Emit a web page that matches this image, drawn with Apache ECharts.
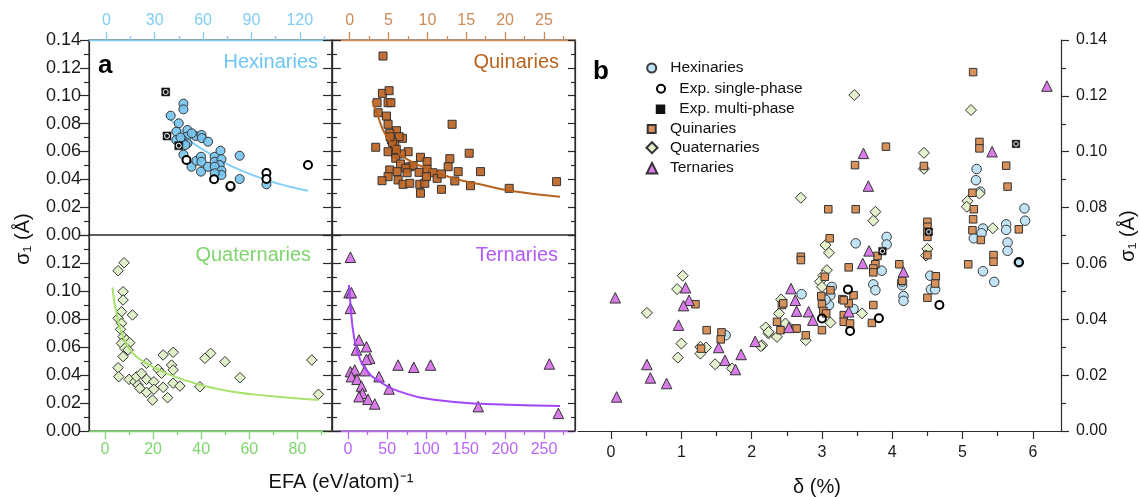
<!DOCTYPE html>
<html>
<head>
<meta charset="utf-8">
<script src="https://cdn.jsdelivr.net/npm/echarts@6/dist/echarts.min.js"></script>
<style>
html, body { margin: 0; padding: 0; background: #fff; }
#container { width: 1140px; height: 497px; }
</style>
</head>
<body>
<div id="container"></div>
<script>
// tick values for each axis
var hexTicks = [0, 30, 60, 90, 120];
var hexMinor = [15, 45, 75, 105, 135];
var quinTicks = [0, 5, 10, 15, 20, 25];
var quinMinor = [2.5, 7.5, 12.5, 17.5, 22.5, 27.5];
var quatTicks = [0, 20, 40, 60, 80];
var quatMinor = [10, 30, 50, 70, 90];
var ternTicks = [0, 50, 100, 150, 200, 250];
var ternMinor = [25, 75, 125, 175, 225, 275];
var deltaTicks = [0, 1, 2, 3, 4, 5, 6];
var deltaMinor = [0.5, 1.5, 2.5, 3.5, 4.5, 5.5];

// panel a: [EFA, sigma1]
var hexA = [[39.9,0.0857],[47.8,0.0943],[47.8,0.0902],[44.9,0.0802],[43.4,0.0742],[50.3,0.0754],[49.7,0.0706],[47.2,0.0682],[50.3,0.0658],[43.4,0.0682],[49,0.0646],[55.4,0.0711],[59,0.0718],[59.2,0.0696],[63.1,0.067],[47.8,0.0577],[52.8,0.049],[55.9,0.0533],[58.7,0.0562],[59,0.0526],[58.7,0.0455],[63.1,0.049],[67.2,0.0562],[70.8,0.0605],[67.2,0.0526],[71.4,0.0544],[70.3,0.0502],[67.2,0.049],[71.4,0.0462],[71.4,0.0431],[67.2,0.0443],[82.7,0.0569],[82.7,0.0402],[99.3,0.0364],[77,0.0345],[53,0.073],[46,0.07]];
var expSingleA = [[49.7,0.0539],[66.8,0.040],[77,0.0352],[99.3,0.0445],[99.3,0.0402],[125.1,0.0503]];
var expMultiA = [[36.8,0.1027],[37.6,0.0711],[44.9,0.0641]];
var hexFit = [[37.2,0.0862],[45,0.0766],[52.8,0.067],[62.1,0.0598],[70.3,0.0539],[82.7,0.0467],[99.3,0.0395],[112,0.0352],[125.1,0.0318]];

var quinA = [[4.29,0.1285],[4.21,0.1017],[5.07,0.1036],[3.52,0.095],[4.94,0.095],[5.3,0.095],[3.65,0.0878],[4.73,0.0854],[4.94,0.0795],[6.02,0.0749],[5.15,0.073],[6.79,0.0694],[6.36,0.0706],[5.37,0.0682],[5.8,0.0646],[3.35,0.063],[4.94,0.0598],[5.93,0.0582],[7.52,0.0598],[6.66,0.0582],[5.93,0.0551],[9.11,0.0558],[12.89,0.0548],[15.38,0.0587],[13.18,0.0795],[6.53,0.051],[7.73,0.049],[8.16,0.0498],[9.96,0.0527],[12.67,0.049],[5.15,0.0467],[6.1,0.0455],[7.22,0.0479],[8.93,0.045],[9.96,0.0472],[7.39,0.0447],[10.7,0.0447],[13.96,0.0455],[16.84,0.0455],[4.94,0.0419],[6.23,0.0395],[4.16,0.039],[6.87,0.0364],[7.73,0.0371],[9.02,0.0364],[9.66,0.0371],[9.88,0.0419],[11.25,0.0407],[11.81,0.0438],[13.53,0.0388],[15.55,0.0354],[9.11,0.03],[11.81,0.0328],[20.53,0.0335],[26.63,0.0383],[5.5,0.0665],[5.2,0.0705],[6.0,0.0615]];
var quinFit = [[2.92,0.0962],[3.65,0.0849],[4.51,0.073],[5.8,0.0622],[7.52,0.0539],[9.88,0.0479],[13.32,0.0407],[16.75,0.0364],[20.62,0.0318],[27.06,0.0275]];

var quatA = [[7.92,0.1202],[5.42,0.1145],[7.5,0.0995],[7.5,0.0936],[6.83,0.0852],[11.42,0.0829],[5.42,0.0805],[6.83,0.0769],[6.42,0.0726],[7.5,0.0674],[8.92,0.065],[10.29,0.0631],[6.83,0.0626],[8.21,0.0591],[9.58,0.0579],[7.5,0.0531],[5.42,0.0452],[5.71,0.0388],[10,0.0369],[12.38,0.0352],[13.75,0.0329],[14.46,0.0305],[13.08,0.0388],[15.17,0.0412],[17.25,0.0483],[17.25,0.0369],[17.25,0.0276],[19.75,0.0221],[20.29,0.0352],[20.29,0.0298],[22.08,0.0441],[23.5,0.0412],[24.17,0.0543],[24.17,0.0312],[26,0.0238],[28.33,0.0562],[27.67,0.0471],[28.33,0.0436],[28.33,0.0341],[31.13,0.0321],[39.46,0.0316],[41.54,0.0519],[43.92,0.0555],[49.88,0.0495],[56.13,0.0381],[86,0.0507],[88.75,0.0262]];
var quatFit = [[3.08,0.1026],[4.75,0.0841],[7.5,0.0674],[11.67,0.0555],[17.25,0.0483],[25.58,0.0412],[39.46,0.033],[53.33,0.0281],[67.25,0.0252],[88.75,0.0221]];

var ternA = [[3.07,0.1241],[1.28,0.0988],[4.34,0.0988],[3.07,0.0876],[14.05,0.065],[23.5,0.0602],[10.73,0.0579],[27.72,0.0519],[23.5,0.0512],[3.07,0.0424],[8.56,0.0436],[4.34,0.0388],[11.5,0.0369],[21.33,0.0431],[39.6,0.0388],[17.12,0.0321],[18.4,0.0269],[14.05,0.0245],[25.55,0.0226],[34.1,0.0193],[52.4,0.03],[63.87,0.0471],[83.93,0.0455],[105.3,0.0471],[166.1,0.0174],[256.8,0.0479],[268.3,0.0126]];
var ternFit = [[1.28,0.1043],[3.07,0.0912],[6.39,0.0721],[12.77,0.0555],[23.5,0.0436],[40.5,0.0352],[70.26,0.0274],[112.9,0.0221],[176.8,0.0193],[270.4,0.0179]];

// panel b: [delta %, sigma1]
var hexB = [[5.2,0.0938],[5.19,0.0898],[5.25,0.0857],[5.29,0.0725],[5.27,0.0708],[5.16,0.069],[5.62,0.074],[5.62,0.072],[5.64,0.0675],[5.64,0.0645],[5.88,0.0797],[5.89,0.0753],[5.8,0.0604],[5.29,0.0572],[5.45,0.0534],[3.48,0.0672],[3.92,0.0695],[3.92,0.0668],[3.85,0.0574],[3.73,0.0525],[3.76,0.0504],[4.14,0.0522],[4.16,0.0483],[4.16,0.0466],[4.54,0.0556],[4.55,0.0507],[4.61,0.0507],[2.71,0.049],[3.12,0.0486],[3.1,0.0451],[3.14,0.0516],[3.45,0.0437],[1.63,0.0343],[3.05,0.047],[4.14,0.0535]];
var expSingleB = [[3.37,0.0507],[3.0,0.0403],[3.4,0.0358],[3.81,0.0404],[4.67,0.0451],[5.8,0.0604]];
var expMultiB = [[3.86,0.0644],[4.52,0.0713],[5.76,0.1028]];
var quinB = [[5.15,0.1285],[5.24,0.1035],[5.24,0.1012],[3.91,0.1018],[3.47,0.0952],[4.45,0.0949],[5.62,0.095],[5.64,0.0875],[5.14,0.0853],[5.16,0.0794],[5.15,0.0758],[5.14,0.0719],[5.26,0.0684],[5.8,0.0722],[5.44,0.063],[5.44,0.0606],[5.08,0.0597],[3.09,0.0794],[3.48,0.0794],[3.11,0.069],[4.5,0.0749],[4.5,0.0731],[4.5,0.0713],[4.5,0.0695],[2.7,0.0624],[2.7,0.0612],[3.38,0.0586],[3.76,0.0597],[3.73,0.0582],[3.73,0.0568],[3.79,0.0627],[4.1,0.0597],[4.14,0.0538],[4.5,0.063],[4.62,0.0554],[4.61,0.0528],[4.5,0.0477],[3.04,0.0552],[3.12,0.0504],[2.99,0.0483],[3.0,0.0454],[3.02,0.043],[3.06,0.0421],[3.0,0.0361],[3.29,0.0472],[3.38,0.0457],[3.45,0.0486],[3.31,0.0468],[3.31,0.0415],[3.31,0.0391],[3.4,0.0385],[3.73,0.0451],[3.71,0.0387],[2.43,0.0451],[2.36,0.0391],[2.62,0.0367],[2.41,0.0361],[2.77,0.0343],[2.45,0.0457],[2.64,0.0367],[1.2,0.0454],[1.36,0.0361],[1.57,0.0353],[1.56,0.0328],[1.28,0.0295]];
var quatB = [[3.46,0.1203],[5.12,0.1149],[4.45,0.0996],[4.45,0.0939],[5.24,0.085],[5.07,0.0823],[5.06,0.0803],[5.43,0.0726],[2.7,0.0835],[3.76,0.0785],[3.73,0.0753],[3.05,0.0666],[3.1,0.0638],[4.5,0.0652],[4.48,0.0628],[3.07,0.0576],[3.02,0.0557],[2.97,0.0535],[3.0,0.0516],[2.42,0.0471],[2.39,0.0421],[2.48,0.0385],[2.2,0.0371],[2.24,0.0349],[2.36,0.0337],[2.24,0.0355],[2.15,0.0307],[2.13,0.0304],[2.77,0.0325],[3.12,0.0388],[3.57,0.0421],[0.51,0.0423],[1.02,0.0556],[0.94,0.0508],[1.0,0.0313],[0.95,0.0263],[1.27,0.0301],[1.35,0.0299],[1.27,0.0277],[1.48,0.0239],[1.72,0.0224]];
var ternB = [[6.2,0.1235],[3.59,0.0994],[5.42,0.1],[3.66,0.0877],[3.67,0.0645],[3.58,0.06],[4.16,0.057],[3.38,0.0427],[0.06,0.0477],[0.08,0.0122],[0.51,0.0238],[0.56,0.019],[0.79,0.017],[1.06,0.0513],[1.11,0.0468],[1.03,0.0449],[0.96,0.0379],[1.53,0.0299],[1.62,0.0253],[1.77,0.022],[1.85,0.0274],[2.05,0.0321],[2.56,0.051],[2.62,0.0468],[2.64,0.0429],[2.53,0.0371],[2.81,0.0427],[2.87,0.0397]];

var FONT = '"Liberation Sans", Arial, Helvetica, sans-serif';
var INK = '#2b2b2b';

var dom = document.getElementById("container");
var myChart = echarts.init(dom);

function efaAxes(grid, pos, min, max, ticks, minor, color, margin) {
    return [{
        gridIndex: grid, type: 'value', position: pos, min: min, max: max, z: 3,
        axisLine: {show: true, onZero: false, lineStyle: {color: color, width: 1.3}},
        axisTick: {show: true, customValues: ticks, length: 8, lineStyle: {color: color, width: 1.3}},
        axisLabel: {show: true, customValues: ticks, color: color, fontSize: 16, fontFamily: FONT, margin: margin},
        splitLine: {show: false}
    }, {
        gridIndex: grid, type: 'value', position: pos, min: min, max: max, z: 3,
        axisLine: {show: false, onZero: false},
        axisTick: {show: true, customValues: minor, length: 4, lineStyle: {color: color, width: 1.3}},
        axisLabel: {show: false},
        splitLine: {show: false}
    }];
}

function sigmaAxis(grid, pos, o) {
    return {
        gridIndex: grid, type: 'value', position: pos, min: 0, max: 0.14, interval: 0.02, z: 3,
        axisLine: {show: true, onZero: false, lineStyle: {color: INK, width: 1.2}},
        axisTick: {show: true, inside: !!o.inside, length: o.len, lineStyle: {color: INK, width: 1.2}},
        minorTick: {show: true, splitNumber: 2, length: o.minor, lineStyle: {color: INK, width: 1.2}},
        axisLabel: {
            show: !!o.labels, fontSize: o.fs || 16, color: '#1a1a1a', fontFamily: FONT, margin: o.margin || 8,
            showMaxLabel: !!o.showMax, showMinLabel: true,
            formatter: function (v) { return v.toFixed(2); }
        },
        splitLine: {show: false}
    };
}

function dots(name, data, xi, yi, symbol, size, fill, border, bw, z) {
    return {
        name: name, type: 'scatter', xAxisIndex: xi, yAxisIndex: yi, data: data,
        symbol: symbol, symbolSize: size, z: z, silent: true,
        itemStyle: {color: fill, borderColor: border, borderWidth: bw, opacity: 1}
    };
}

// white ring drawn over the black squares of the multi-phase points
function ring(data, xi, yi, size, z) {
    return dots('ring', data, xi, yi, 'circle', size, 'rgba(0,0,0,0)', '#fff', 1, z);
}

function fit(data, xi, yi, color, z) {
    return {
        type: 'line', xAxisIndex: xi, yAxisIndex: yi, data: data, smooth: 0.5,
        showSymbol: false, symbol: 'none', silent: true, z: z,
        lineStyle: {color: color, width: 2}
    };
}

// one legend per row: icon centre cx, text start tx, row centre cy
function legendRow(name, cx, tx, cy, s) {
    return {
        data: [name], left: cx - s / 2, top: cy - s / 2, orient: 'vertical', padding: 0,
        itemWidth: s, itemHeight: s, selectedMode: false,
        textStyle: {fontSize: 15.5, color: '#111', fontFamily: FONT, padding: [0, 0, 0, tx - (cx + s / 2 + 5)]}
    };
}

function label(text, x, y, color, size, align, weight, rot) {
    return {
        type: 'text', x: x, y: y, rotation: rot || 0, z: 10, silent: true,
        style: {
            text: text, fill: color, fontSize: size, fontFamily: FONT, fontWeight: weight || 'normal',
            align: align, verticalAlign: 'middle', textAlign: align, textVerticalAlign: 'middle'
        }
    };
}

var gridBox = {show: true, borderColor: INK, borderWidth: 1.2, backgroundColor: 'transparent', z: 0};

option = {
    animation: false,
    backgroundColor: '#fff',
    grid: [
        Object.assign({left: 89, top: 40, width: 243, height: 195}, gridBox),
        Object.assign({left: 332, top: 40, width: 243, height: 195}, gridBox),
        Object.assign({left: 89, top: 235, width: 243, height: 196}, gridBox),
        Object.assign({left: 332, top: 235, width: 243, height: 196}, gridBox),
        {left: 578, top: 40, width: 483, height: 391, show: false}
    ],
    xAxis: [].concat(
        efaAxes(0, 'top', -10.8, 140, hexTicks, hexMinor, '#7fcdf5', 11),
        efaAxes(1, 'top', -2.28, 29.0, quinTicks, quinMinor, '#cf8a55', 11),
        efaAxes(2, 'bottom', -6.67, 94.4, quatTicks, quatMinor, '#7ed66e', 11),
        efaAxes(3, 'bottom', -20.4, 289.5, ternTicks, ternMinor, '#b666f7', 11),
        [{
            gridIndex: 4, type: 'value', position: 'bottom', min: -0.47, max: 6.4, z: 3,
            axisLine: {show: true, onZero: false, lineStyle: {color: INK, width: 1.2}},
            axisTick: {show: true, customValues: deltaTicks, length: 8, lineStyle: {color: INK, width: 1.2}},
            axisLabel: {show: true, customValues: deltaTicks, color: '#1a1a1a', fontSize: 16, fontFamily: FONT, margin: 14},
            splitLine: {show: false}
        }, {
            gridIndex: 4, type: 'value', position: 'bottom', min: -0.47, max: 6.4, z: 3,
            axisLine: {show: false, onZero: false},
            axisTick: {show: true, customValues: deltaMinor, length: 5, lineStyle: {color: INK, width: 1.2}},
            axisLabel: {show: false},
            splitLine: {show: false}
        }]
    ),
    yAxis: [
        sigmaAxis(0, 'left', {inside: false, len: 9, minor: 5, labels: true, fs: 18, margin: 8, showMax: true}),
        sigmaAxis(0, 'right', {inside: true, len: 9, minor: 5}),
        sigmaAxis(1, 'left', {inside: true, len: 9, minor: 5}),
        sigmaAxis(1, 'right', {inside: true, len: 7, minor: 4}),
        sigmaAxis(2, 'left', {inside: false, len: 9, minor: 5, labels: true, fs: 18, margin: 8, showMax: false}),
        sigmaAxis(2, 'right', {inside: true, len: 9, minor: 5}),
        sigmaAxis(3, 'left', {inside: true, len: 9, minor: 5}),
        sigmaAxis(3, 'right', {inside: true, len: 7, minor: 4}),
        sigmaAxis(4, 'right', {inside: false, len: 8, minor: 5, labels: true, fs: 16, margin: 15, showMax: true})
    ],
    legend: [
        legendRow('Hexinaries', 650.7, 669.3, 64.5, 9),
        legendRow('Exp. single-phase', 660, 678.3, 84.7, 8),
        legendRow('Exp. multi-phase', 659.5, 678.3, 104.9, 7.5),
        legendRow('Quinaries', 650.7, 669, 125, 8),
        legendRow('Quaternaries', 651, 669, 145.2, 11),
        legendRow('Ternaries', 651, 669, 165.4, 10.5)
    ],
    graphic: [
        label('a', 98, 66, '#000', 26, 'left', 'bold'),
        label('b', 593, 72, '#000', 26, 'left', 'bold'),
        label('Hexinaries', 318, 62, '#6ec6f5', 20, 'right'),
        label('Quinaries', 559, 62.5, '#b8641f', 20, 'right'),
        label('Quaternaries', 311, 255, '#7ed56e', 20, 'right'),
        label('Ternaries', 558, 255.5, '#b25af5', 20, 'right'),
        label('EFA (eV/atom)\u207B\u00B9', 341, 482, '#111', 20, 'center'),
        label('\u03B4 (%)', 817, 487, '#111', 20, 'center'),
        label('\u03C3\u2081 (\u00C5)', 23, 239, '#111', 20, 'center', 'normal', Math.PI / 2),
        label('\u03C3\u2081 (\u00C5)', 1128, 236, '#111', 20, 'center', 'normal', Math.PI / 2)
    ],
    series: [
        // panel b (first, so the legend picks up these styles)
        dots('Hexinaries', hexB, 8, 8, 'circle', 9.5, '#c0e4f6', '#3a3a3a', 1, 4),
        dots('Quaternaries', quatB, 8, 8, 'diamond', 11, '#e3f2cd', '#333', 1, 5),
        dots('Quinaries', quinB, 8, 8, 'rect', 7.5, '#d8915a', '#333', 1, 6),
        dots('Ternaries', ternB, 8, 8, 'triangle', 10.5, '#d97be8', '#333', 1, 7),
        dots('Exp. single-phase', expSingleB, 8, 8, 'circle', 8, 'rgba(255,255,255,0)', '#000', 2, 8),
        dots('Exp. multi-phase', expMultiB, 8, 8, 'rect', 7.5, '#111', '#111', 0.5, 9),
        ring(expMultiB, 8, 8, 4.5, 10),

        // panel a
        fit(hexFit, 0, 0, '#86d0f7', 3),
        dots('Hexinaries a', hexA, 0, 0, 'circle', 9, 'rgba(118,196,240,0.9)', '#333', 1, 4),
        dots('Exp. single-phase a', expSingleA, 0, 0, 'circle', 8, '#fff', '#000', 2, 5),
        dots('Exp. multi-phase a', expMultiA, 0, 0, 'rect', 8, '#111', '#111', 0.5, 6),
        ring(expMultiA, 0, 0, 5, 7),

        dots('Quinaries a', quinA, 2, 2, 'rect', 8, 'rgba(190,100,36,0.92)', '#333', 1, 4),
        fit(quinFit, 2, 2, '#b5621e', 5),

        dots('Quaternaries a', quatA, 4, 4, 'diamond', 10.5, '#e0f0c8', '#333', 1, 4),
        fit(quatFit, 4, 4, '#a9e26e', 5),

        dots('Ternaries a', ternA, 6, 6, 'triangle', 10.5, '#d97be8', '#333', 1, 4),
        fit(ternFit, 6, 6, '#a347f5', 5)
    ]
};

if (option && typeof option === "object") {
    myChart.setOption(option, true);
}
</script>
</body>
</html>
